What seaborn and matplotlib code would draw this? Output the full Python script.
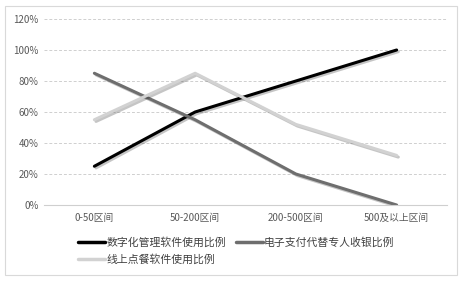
import matplotlib
matplotlib.use("Agg")
import matplotlib.pyplot as plt
import matplotlib.patheffects as pe
import seaborn as sns
import pandas as pd
from matplotlib.ticker import FuncFormatter, MultipleLocator
from matplotlib.patches import Rectangle

categories = ["0-50区间", "50-200区间", "200-500区间", "500及以上区间"]
digital_mgmt = [25, 60, 80, 100]
e_payment = [85, 55, 20, 0]
online_order = [55, 85, 52, 32]
series_names = ["数字化管理软件使用比例", "电子支付代替专人收银比例", "线上点餐软件使用比例"]

sns.set_theme(style="white")
plt.rcParams['font.family'] = ['Noto Sans CJK SC', 'DejaVu Sans']

df = pd.DataFrame({
    "cat": categories * 3,
    "val": digital_mgmt + e_payment + online_order,
    "series": [series_names[0]] * 4 + [series_names[1]] * 4 + [series_names[2]] * 4,
})

fig = plt.figure(figsize=(4.64, 2.81), dpi=100)
ax = fig.add_axes([44/464, 1 - 205/281, (447-44)/464, (205-19)/281])

palette = {series_names[0]: "#000000", series_names[1]: "#6e6e6e", series_names[2]: "#d2d2d2"}
sns.lineplot(data=df, x="cat", y="val", hue="series", palette=palette, ax=ax,
             linewidth=2.2, sort=False, legend=False)
for line in ax.lines:
    line.set_path_effects([pe.SimpleLineShadow(offset=(1.2, -1.2), alpha=0.25, shadow_color="k"), pe.Normal()])

ax.set_xlim(-0.5, 3.5)
ax.set_ylim(0, 120)
ax.yaxis.set_major_locator(MultipleLocator(20))
ax.yaxis.set_major_formatter(FuncFormatter(lambda v, p: f"{int(v)}%"))
ax.grid(axis="y", color="#cfcfcf", linestyle=(0, (3, 2)), linewidth=0.7)
ax.set_axisbelow(True)
for s in ["top", "right", "left"]:
    ax.spines[s].set_visible(False)
ax.spines["bottom"].set_color("#cfcfcf")
ax.spines["bottom"].set_linewidth(0.8)
ax.tick_params(axis="both", length=0, labelsize=7, colors="#595959", pad=6)
ax.tick_params(axis="y", pad=4)
ax.set_xlabel("")
ax.set_ylabel("")

handles = [plt.Line2D([], [], color=palette[n], linewidth=2.5) for n in series_names]
order = [0, 2, 1]
fig.legend([handles[i] for i in order], [series_names[i] for i in order],
           loc="upper left", bbox_to_anchor=(74/464, 1 - 233/281), ncol=2,
           frameon=False, fontsize=7.8, handlelength=2.5, handletextpad=0.1,
           columnspacing=0.9, labelspacing=0.6, labelcolor="#404040", borderaxespad=0)

fig.patches.append(Rectangle((5/464, 1 - 275/281), (457-5)/464, (275-6)/281,
                             transform=fig.transFigure, fill=False, edgecolor="#d9d9d9", linewidth=0.8))

fig.savefig("out.png", dpi=100)
